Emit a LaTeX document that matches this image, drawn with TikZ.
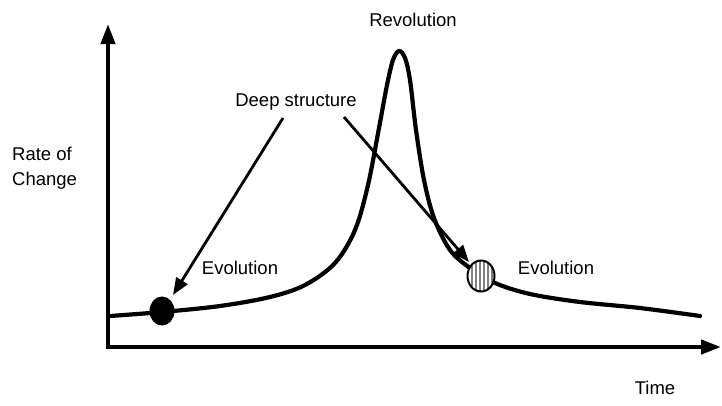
\documentclass[tikz,border=0pt]{standalone}
\usepackage{fontspec}
\setmainfont{Liberation Sans}
\usetikzlibrary{arrows.meta,shapes.geometric}
\begin{document}
\begin{tikzpicture}[x=1pt,y=-1pt,
  lbl/.style={font=\fontsize{18.5}{22}\selectfont, inner sep=0pt},
  axis/.style={line width=4.2pt, -{Triangle[width=14pt,length=20pt]}},
  curveline/.style={line width=4.2pt, line cap=round},
  pointer/.style={line width=2.8pt, -{Triangle[width=13pt,length=17pt]}}]
\useasboundingbox (0,0) rectangle (722,405);
\fill[white] (0,0) rectangle (722,405);
% axes
\coordinate (origin) at (108,347);
\coordinate (ytop) at (108,24);
\coordinate (xend) at (721,347);
\draw[axis] ([yshift=2pt]origin) -- (ytop);
\draw[axis] ([xshift=-2pt]origin) -- (xend);
% curve
\draw[curveline] plot[smooth, tension=0.55] coordinates {
 (110,316) (162,312) (220,306) (270,297) (305,285) (335,263) (355,230) (368,185)
 (379,128) (387,85) (393,60) (399,51) (405,58) (410,80) (416,130) (424,180)
 (434,218) (450,250) (470,268) (495,283) (530,294) (580,302) (640,308) (700,316)};
% markers
\node[draw, fill=black, ellipse, minimum width=24pt, minimum height=28pt, inner sep=0pt, line width=1pt] (dot) at (162,311) {};
\begin{scope}
\clip (481,276) ellipse [x radius=13.5, y radius=15.5];
\fill[white] (466,259) rectangle (496,293);
\foreach \i in {-9,-5,...,11} \draw[gray, line width=1.4pt] (481+\i,258) -- (481+\i,294);
\end{scope}
\node[draw, ellipse, minimum width=27pt, minimum height=31pt, inner sep=0pt, line width=2pt] (ring) at (481,276) {};
% labels
\node[lbl] (rev) at (413,20) {Revolution};
\node[lbl] (deep) at (296,102) {Deep structure};
\node[lbl, align=left, anchor=west] (rate) at (12,168) {Rate of\\[3pt]Change};
\node[lbl] (evo1) at (240,268) {Evolution};
\node[lbl] (evo2) at (556,268) {Evolution};
\node[lbl] (time) at (655,388) {Time};
% pointers
\draw[pointer] (283,118) -- (173,295);
\draw[pointer] (344,117) -- (469,262);
\end{tikzpicture}
\end{document}
